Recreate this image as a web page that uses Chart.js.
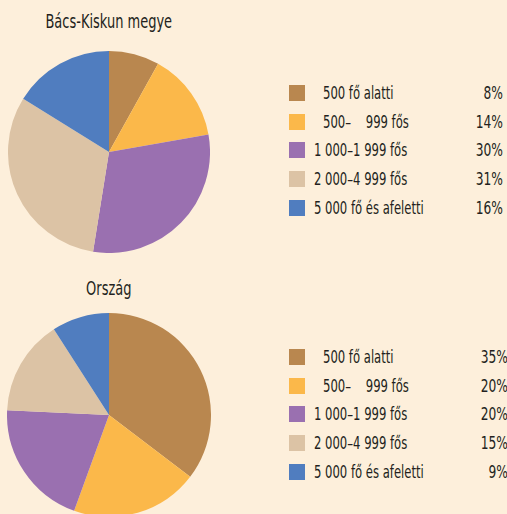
<!DOCTYPE html>
<html>
<head>
<meta charset="utf-8">
<script src="https://cdn.jsdelivr.net/npm/chart.js@4/dist/chart.umd.min.js"></script>
<style>
  html, body { margin: 0; padding: 0; }
  body {
    width: 507px; height: 514px; overflow: hidden; position: relative;
    background: #fdefdb;
    font-family: "Liberation Sans Narrow", "DejaVu Sans Condensed", sans-serif;
    color: #231f20;
  }
  .title { position: absolute; width: 218px; left: 0; text-align: center; font-size: 19px;
           transform: scaleX(0.76); transform-origin: 108px 0; }
  .pie { position: absolute; }
  .row { position: absolute; height: 16px; font-size: 17px; line-height: 16px; white-space: pre; }
  .sw { position: absolute; width: 16px; height: 16px; }
  .lbl { position: absolute; top: 0; transform: scaleX(0.76); transform-origin: 0 0; }
  .pct { position: absolute; top: 0; text-align: right; width: 40px;
         transform: scaleX(0.8); transform-origin: 100% 0; }
</style>
</head>
<body>
<div class="title" style="top:10px">Bács-Kiskun megye</div>
<div class="title" style="top:277px">Ország</div>
<div class="pie" style="left:8px;top:51px;width:202px;height:202px"><canvas id="pie1"></canvas></div>
<div class="pie" style="left:7px;top:313px;width:204px;height:204px"><canvas id="pie2"></canvas></div>
<div id="leg1"></div>
<div id="leg2"></div>
<script>
const categories = ["500 fő alatti", "500–    999 fős", "1 000–1 999 fős", "2 000–4 999 fős", "5 000 fő és afeletti"];
const colors = ["#b9874f", "#fbb84a", "#9a70b0", "#dcc3a5", "#507dbf"];
const bacsKiskun = [8, 14, 30, 31, 16];
const orszag = [35, 20, 20, 15, 9];

function makePie(id, values) {
  new Chart(id, {
    type: "pie",
    data: {
      labels: categories,
      datasets: [{
        data: values,
        backgroundColor: colors,
        borderWidth: 0,
        hoverOffset: 0,
        offset: 0
      }]
    },
    options: {
      responsive: true,
      maintainAspectRatio: false,
      animation: false,
      layout: { padding: 0 },
      plugins: { legend: { display: false }, tooltip: { enabled: false } }
    }
  });
}
makePie("pie1", bacsKiskun);
makePie("pie2", orszag);

function makeLegend(id, values, top, pctRight) {
  const box = document.getElementById(id);
  categories.forEach(function (c, i) {
    const row = document.createElement("div");
    row.className = "row";
    row.style.left = "289px";
    row.style.top = (top + i * 28.7 - 8) + "px";
    const indent = c.startsWith("500") ? 9 : 0;
    row.innerHTML =
      '<div class="sw" style="left:0;background:' + colors[i] + '"></div>' +
      '<div class="lbl" style="left:' + (25 + indent) + 'px">' + c + '</div>' +
      '<div class="pct" style="left:' + (pctRight - 289 - 40) + 'px">' + values[i] + '%</div>';
    box.appendChild(row);
  });
}
makeLegend("leg1", bacsKiskun, 93, 503);
makeLegend("leg2", orszag, 357, 508);
</script>
</body>
</html>
